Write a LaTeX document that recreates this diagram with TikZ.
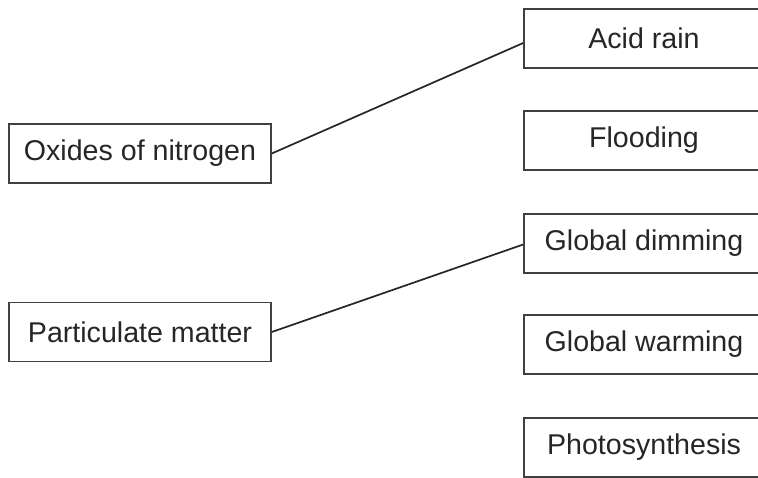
\documentclass[tikz,border=0pt]{standalone}
\usepackage{fontspec}
\setmainfont{Liberation Sans}
\begin{document}
\begin{tikzpicture}[x=1pt,y=-1pt,
  box/.style={draw=black!75, line width=1.6pt, fill=white, inner sep=0pt,
    minimum height=59pt, font=\fontsize{28.6}{34}\selectfont, text=black!85},
  lbox/.style={box, minimum width=262pt},
  rbox/.style={box, minimum width=240pt},
  conn/.style={draw=black!85, line width=1.7pt}]
\useasboundingbox (0,0) rectangle (758,478);
\clip (0,0) rectangle (758,478);
\fill[white] (0,0) rectangle (758,478);
\node[lbox] (ox) at (140,153.5) {Oxides of nitrogen};
\node[lbox] (pm) at (140,332) {Particulate matter};
\node[rbox] (acid) at (644,38.5) {Acid rain};
\node[rbox] (flood) at (644,140.5) {Flooding};
\node[rbox] (dim) at (644,243.5) {Global dimming};
\node[rbox] (warm) at (644,344.5) {Global warming};
\node[rbox] (photo) at (644,447.5) {Photosynthesis};
\draw[conn] (ox.east) -- ([yshift=-4.5pt]acid.west);
\draw[conn] (pm.east) -- ([yshift=-1pt]dim.west);
\end{tikzpicture}
\end{document}
